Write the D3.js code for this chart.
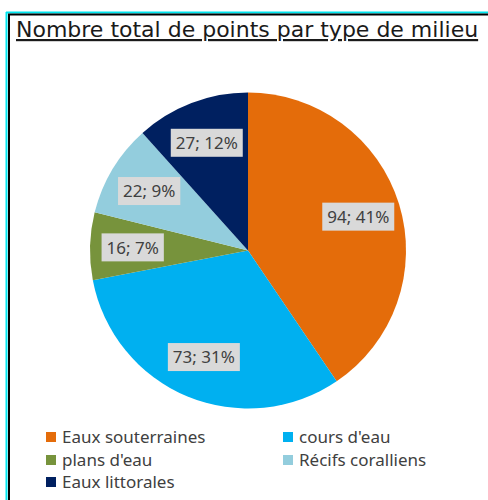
<!DOCTYPE html>
<html>
<head>
<meta charset="utf-8">
<script src="https://cdn.jsdelivr.net/npm/d3@7"></script>
<style>
  body { margin: 0; background: #fff; }
  svg { display: block; }
</style>
</head>
<body>
<div id="chart"></div>
<script>
// data
var categories = ["Eaux souterraines", "cours d'eau", "plans d'eau", "Récifs coralliens", "Eaux littorales"];
var values = [94, 73, 16, 22, 27];
var percents = ["41%", "31%", "7%", "9%", "12%"];
var colors = ["#E46C0A", "#00B0F0", "#77933C", "#93CDDD", "#002060"];

var width = 488, height = 500;

var svg = d3.select("#chart").append("svg")
    .attr("width", width)
    .attr("height", height);

// frame: cyan outline with black line inside (top + left)
svg.append("line").attr("x1", 6).attr("y1", 12.5).attr("x2", width).attr("y2", 12.5)
    .attr("stroke", "#00E5EE").attr("stroke-width", 2);
svg.append("line").attr("x1", 6.5).attr("y1", 12).attr("x2", 6.5).attr("y2", height)
    .attr("stroke", "#00E5EE").attr("stroke-width", 2);
svg.append("line").attr("x1", 8).attr("y1", 14.5).attr("x2", width).attr("y2", 14.5)
    .attr("stroke", "#000").attr("stroke-width", 2);
svg.append("line").attr("x1", 9).attr("y1", 14).attr("x2", 9).attr("y2", height)
    .attr("stroke", "#000").attr("stroke-width", 2);

// title
svg.append("text")
    .attr("x", 16)
    .attr("y", 37)
    .attr("font-family", "DejaVu Sans")
    .attr("font-size", 22)
    .attr("fill", "#1a1a1a")
    .attr("text-decoration", "underline")
    .text("Nombre total de points par type de milieu");

var cx = 248, cy = 250.5, radius = 158;

var pie = d3.pie().sort(null).value(function(d) { return d; });
var arc = d3.arc().innerRadius(0).outerRadius(radius);
var labelArc = d3.arc().innerRadius(radius * 0.73).outerRadius(radius * 0.73);

var g = svg.append("g")
    .attr("transform", "translate(" + cx + "," + cy + ")");

var arcs = pie(values);

g.selectAll("path.slice")
    .data(arcs)
  .enter().append("path")
    .attr("class", "slice")
    .attr("d", arc)
    .attr("fill", function(d, i) { return colors[i]; });

// labels with grey boxes
var labels = g.selectAll("g.lbl")
    .data(arcs)
  .enter().append("g")
    .attr("class", "lbl")
    .attr("transform", function(d) { return "translate(" + labelArc.centroid(d) + ")"; });

labels.each(function(d, i) {
  var sel = d3.select(this);
  var t = sel.append("text")
      .attr("text-anchor", "middle")
      .attr("dy", "0.36em")
      .attr("font-family", "Noto Sans")
      .attr("font-size", 17)
      .attr("fill", "#404040")
      .text(values[i] + "; " + percents[i]);
  var bb = t.node().getBBox();
  sel.insert("rect", "text")
      .attr("x", bb.x - 5)
      .attr("y", -14)
      .attr("width", bb.width + 10)
      .attr("height", 28)
      .attr("fill", "#D9D9D9");
});

// legend
var legendCols = [46, 283];
var legendRows = [437, 460, 482];

var legend = svg.selectAll("g.legend")
    .data(categories)
  .enter().append("g")
    .attr("class", "legend")
    .attr("transform", function(d, i) {
      return "translate(" + legendCols[i % 2] + "," + legendRows[Math.floor(i / 2)] + ")";
    });

legend.append("rect")
    .attr("x", 0)
    .attr("y", -5)
    .attr("width", 10)
    .attr("height", 10)
    .attr("fill", function(d, i) { return colors[i]; });

legend.append("text")
    .attr("x", 16)
    .attr("dy", "0.36em")
    .attr("font-family", "Noto Sans")
    .attr("font-size", 17)
    .attr("fill", "#404040")
    .text(function(d) { return d; });
</script>
</body>
</html>
